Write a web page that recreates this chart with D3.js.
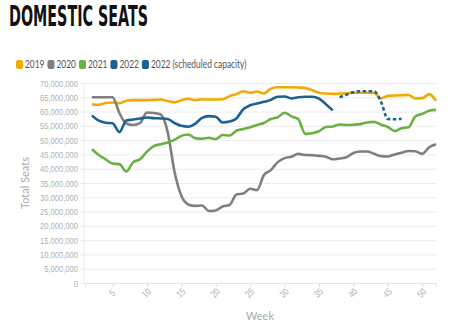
<!DOCTYPE html>
<html>
<head>
<meta charset="utf-8">
<script src="https://cdn.jsdelivr.net/npm/d3@7"></script>
<style>
  body { margin: 0; background: #fff; }
  svg { display: block; font-family: Lato, "Open Sans", sans-serif; }
</style>
</head>
<body>
<svg width="451" height="327"></svg>
<script>
// weekly domestic seats, in millions, first value is week 2
const firstWeek = 2;
const s2019 = [62.5, 62.4, 63.0, 63.2, 62.9, 63.8, 64.0, 64.0, 64.0, 64.1,
    64.2, 63.7, 63.2, 64.0, 64.5, 64.0, 64.3, 64.2, 64.2, 64.3,
    65.4, 66.1, 67.1, 66.6, 67.0, 66.3, 68.0, 68.5, 68.5, 68.5,
    68.4, 68.2, 67.5, 66.6, 66.3, 66.2, 66.3, 66.4, 66.6, 66.6,
    66.6, 66.5, 64.6, 65.5, 65.6, 65.7, 65.8, 64.6, 64.7, 66.1, 63.8];
const s2020 = [65.0, 65.0, 65.0, 65.0, 59.5, 55.8, 55.3, 56.0, 59.7, 59.5,
    59.0, 53.0, 39.0, 30.5, 27.5, 27.0, 27.1, 25.2, 25.4, 26.8,
    27.3, 31.0, 31.3, 33.0, 32.5, 37.8, 39.5, 42.3, 43.7, 44.2,
    45.2, 44.8, 44.7, 44.5, 44.2, 43.3, 43.6, 44.0, 45.5, 46.0,
    46.0, 45.2, 44.4, 44.3, 45.0, 45.6, 46.2, 46.1, 45.2, 47.5, 48.6];
const s2021 = [46.8, 44.8, 43.3, 41.8, 41.6, 39.0, 42.3, 43.3, 46.0, 47.9,
    48.6, 49.2, 50.1, 51.5, 52.0, 50.7, 50.5, 50.8, 50.4, 51.8,
    51.6, 53.3, 53.9, 54.5, 55.3, 56.0, 57.4, 58.0, 59.6, 58.3,
    57.3, 52.2, 52.4, 53.1, 54.6, 54.8, 55.5, 55.3, 55.4, 55.6,
    56.2, 56.4, 55.4, 54.6, 53.2, 54.2, 54.5, 58.3, 59.2, 60.3, 60.6];
const s2022 = [58.6, 56.8, 56.1, 55.9, 52.8, 56.9, 57.2, 57.6, 57.9, 57.7,
    57.6, 57.4, 56.0, 55.0, 54.7, 55.7, 57.8, 58.4, 58.2, 56.2,
    56.5, 57.6, 60.8, 62.2, 62.8, 63.4, 64.1, 65.2, 65.3, 64.6,
    65.0, 65.2, 65.2, 64.5, 62.6, 60.4];
// scheduled capacity starts at week 38
const schedStart = 38;
const sched2022 = [65.0, 65.9, 66.8, 67.1, 67.1, 67.1, 63.5, 57.4, 57.3, 57.5];

const yTicks = [0, 5, 10, 15, 20, 25, 30, 35, 40, 45, 50, 55, 60, 65, 70];
const xTicks = [5, 10, 15, 20, 25, 30, 35, 40, 45, 50];

const series = [
    { name: "2019", color: "#f2a900", values: s2019, start: firstWeek },
    { name: "2020", color: "#7f7f7f", values: s2020, start: firstWeek },
    { name: "2021", color: "#6ab042", values: s2021, start: firstWeek },
    { name: "2022", color: "#1b6293", values: s2022, start: firstWeek },
    { name: "2022 (scheduled capacity)", color: "#1b6293", values: sched2022, start: schedStart, dashed: true }
];

const margin = { top: 83, right: 15, bottom: 44, left: 84 },
    width = 451 - margin.left - margin.right,
    height = 327 - margin.top - margin.bottom;

// labels use a squeezed sans to get the narrow look
const squeeze = 0.8;

const svg = d3.select("svg");

svg.append("text")
    .attr("x", 9)
    .attr("y", 26)
    .attr("textLength", 139)
    .attr("lengthAdjust", "spacingAndGlyphs")
    .style("font-family", "'DejaVu Sans', sans-serif")
    .style("font-stretch", "condensed")
    .style("font-weight", "bold")
    .style("font-size", "28px")
    .style("fill", "#111")
    .text("DOMESTIC SEATS");

// legend
let lx = 16;
series.forEach(s => {
    const item = svg.append("g").attr("transform", "translate(" + lx + ",60)");
    item.append("rect")
        .attr("width", 7).attr("height", 9)
        .attr("rx", 2)
        .attr("fill", s.color);
    const t = item.append("text")
        .attr("transform", "translate(9,8) scale(" + squeeze + ",1)")
        .style("font-size", "10.5px")
        .style("fill", "#555")
        .text(s.name);
    lx += 9 + t.node().getComputedTextLength() * squeeze + 3;
});

const g = svg.append("g")
    .attr("transform", "translate(" + margin.left + "," + margin.top + ")");

const x = d3.scaleLinear().domain([1, 52]).range([1, width]);
const y = d3.scaleLinear().domain([0, 70]).range([height, 0]);

// horizontal grid + y labels
const yAxis = g.append("g")
    .call(d3.axisLeft(y)
        .tickValues(yTicks)
        .tickSize(-width)
        .tickFormat(d => d3.format(",")(d * 1e6)));
yAxis.select(".domain").remove();
yAxis.selectAll(".tick line").attr("stroke", "#ececec").attr("x1", -4);
yAxis.selectAll(".tick text")
    .attr("x", 0)
    .attr("transform", "translate(-6,0) scale(" + squeeze + ",1)")
    .style("font-size", "9.5px")
    .style("fill", "#b0b0b0");

g.append("line")
    .attr("x1", 0).attr("x2", 0)
    .attr("y1", 0).attr("y2", height)
    .attr("stroke", "#ececec");

const xAxis = g.append("g")
    .attr("transform", "translate(0," + height + ")")
    .call(d3.axisBottom(x).tickValues(xTicks).tickSize(4).tickPadding(0));
xAxis.select(".domain").attr("stroke", "#e4e4e4");
xAxis.selectAll(".tick line").attr("stroke", "#ddd");
xAxis.selectAll(".tick text")
    .attr("y", 0)
    .attr("dy", 0)
    .attr("transform", "translate(-1,10) rotate(-45) scale(" + squeeze + ",1)")
    .style("text-anchor", "middle")
    .attr("dominant-baseline", "central")
    .style("font-size", "9.5px")
    .style("fill", "#b0b0b0");

g.append("text")
    .attr("x", width / 2)
    .attr("y", height + 37)
    .style("text-anchor", "middle")
    .style("font-size", "11px")
    .style("fill", "#aaa")
    .text("Week");

g.append("text")
    .attr("transform", "translate(-55," + (height / 2) + ") rotate(-90)")
    .style("text-anchor", "middle")
    .style("font-size", "11px")
    .style("fill", "#aaa")
    .text("Total Seats");

const line = d3.line()
    .curve(d3.curveMonotoneX)
    .x(d => x(d.week))
    .y(d => y(d.value));

g.selectAll(".series")
    .data(series)
    .enter().append("path")
    .attr("class", "series")
    .attr("fill", "none")
    .attr("stroke", d => d.color)
    .attr("stroke-width", 2.6)
    .attr("stroke-linejoin", "round")
    .attr("stroke-dasharray", d => d.dashed ? "3.5,2.5" : null)
    .attr("d", d => line(d.values.map((v, i) => ({ week: d.start + i, value: v }))));
</script>
</body>
</html>
